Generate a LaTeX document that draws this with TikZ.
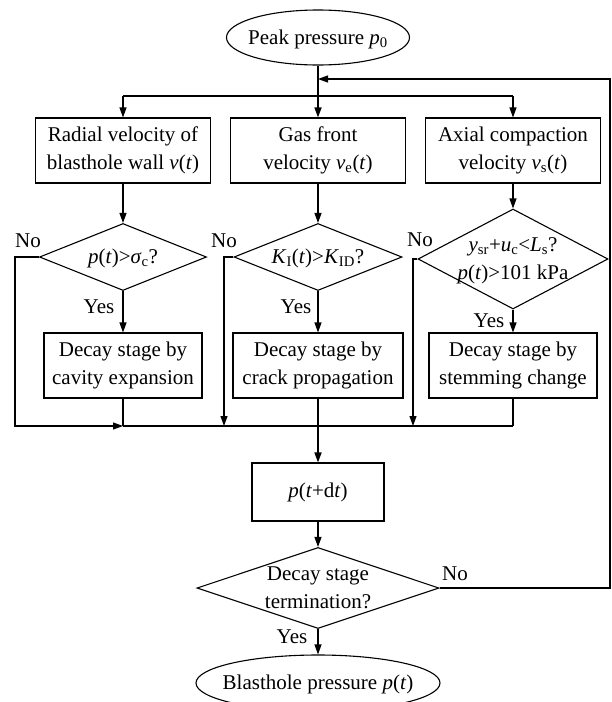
\documentclass[tikz,border=0pt]{standalone}
\usepackage{fontspec}
\setmainfont{Liberation Serif}
\usetikzlibrary{shapes.geometric,arrows.meta}
\newcommand{\sbs}[1]{\textsubscript{#1}}
\newcommand{\ctext}[1]{\smash{\makebox[0pt]{\raisebox{-0.3em}{\begin{tabular}{@{}c@{}}#1\end{tabular}}}}}
\begin{document}
\begin{tikzpicture}[x=1pt,y=-1pt,
  every node/.style={font=\fontsize{21}{28}\selectfont},
  shp/.style={draw, line width=1.1pt, inner sep=0pt},
  box/.style={shp, rectangle, align=center, minimum height=65pt},
  dia/.style={shp, diamond},
  ell/.style={shp, ellipse},
  ln/.style={line width=1.1pt},
  arr/.style={ln, -{Triangle[length=10pt,width=7pt]}},
  lbl/.style={inner sep=0pt}]
\useasboundingbox (0,0) rectangle (611,702);

% top
\node[ell, minimum width=183pt, minimum height=55pt] (top) at (318,37.5) {\ctext{Peak pressure \textit{p}\sbs{0}}};

% first row boxes
\node[box, minimum width=175pt] (b1) at (123,150.5) {Radial velocity of\\blasthole wall \textit{v}(\textit{t})};
\node[box, minimum width=175pt] (b2) at (318,150.5) {Gas front\\velocity \textit{v}\sbs{e}(\textit{t})};
\node[box, minimum width=175pt] (b3) at (513,150.5) {Axial compaction\\velocity \textit{v}\sbs{s}(\textit{t})};

% diamonds
\node[dia, minimum width=167pt, minimum height=67pt] (d1) at (123,257) {\ctext{\textit{p}(\textit{t})>\textit{σ}\sbs{c}?}};
\node[dia, minimum width=168pt, minimum height=67pt] (d2) at (318,257) {\ctext{\textit{K}\sbs{I}(\textit{t})>\textit{K}\sbs{ID}?}};
\node[dia, minimum width=190pt, minimum height=100pt] (d3) at (513,259) {\ctext{\textit{y}\sbs{sr}+\textit{u}\sbs{c}<\textit{L}\sbs{s}?\\\textit{p}(\textit{t})>101 kPa}};

% decay boxes
\node[box, minimum width=158pt] (c1) at (123,365.5) {Decay stage by\\cavity expansion};
\node[box, minimum width=170pt] (c2) at (318,365.5) {Decay stage by\\crack propagation};
\node[box, minimum width=168pt] (c3) at (513,365.5) {Decay stage by\\stemming change};

% lower part
\node[box, minimum width=132pt, minimum height=58pt] (p) at (318,492) {\textit{p}(\textit{t}+d\textit{t})};
\node[dia, minimum width=242pt, minimum height=81pt] (d4) at (318,588) {\ctext{Decay stage\\termination?}};
\node[ell, minimum width=244pt, minimum height=56pt] (end) at (318,683) {\ctext{Blasthole pressure \textit{p}(\textit{t})}};

% labels
\node[lbl] (no1) at (28,241) {No};
\node[lbl] (no2) at (224,241) {No};
\node[lbl] (no3) at (420,240) {No};
\node[lbl] (no4) at (455,574) {No};
\node[lbl] (y1) at (99,307) {Yes};
\node[lbl] (y2) at (296,307) {Yes};
\node[lbl] (y3) at (489,321) {Yes};
\node[lbl] (y4) at (292,637) {Yes};

% coordinates
\coordinate (br) at (318,96);
\coordinate (fb) at (318,79);
\coordinate (m1) at (123,426);
\coordinate (m3) at (513,426);
\coordinate (nl1) at (15,257);
\coordinate (nl2) at (224,257);
\coordinate (nl3) at (413,259);
\coordinate (fr) at (610,588);

% connectors
\draw[arr, line width=1.6pt] (top) -- (b2);
\draw[ln] (b1.north |- br) -- (b3.north |- br);
\draw[arr] (b1.north |- br) -- (b1.north);
\draw[arr] (b3.north |- br) -- (b3.north);
\draw[arr] (b1) -- (d1);
\draw[arr] (b2) -- (d2);
\draw[arr] (b3) -- (d3);
\draw[arr] (d1) -- (c1);
\draw[arr] (d2) -- (c2);
\draw[arr] (d3) -- (c3);
\draw[arr] (d1.west) -- (nl1) |- (m1);
\draw[arr] (d2.west) -- (nl2) -- (nl2 |- m1);
\draw[arr] (d3.west) -- (nl3) -- (nl3 |- m1);
\draw[ln] (c1) -- (m1);
\draw[ln] (c3) -- (m3);
\draw[ln] (m1) -- (m3);
\draw[arr, line width=1.6pt] (c2) -- (p);
\draw[arr] (p) -- (d4);
\draw[arr] (d4) -- (end);
\draw[arr] (d4.east) -- (fr) |- (fb);
\end{tikzpicture}
\end{document}
